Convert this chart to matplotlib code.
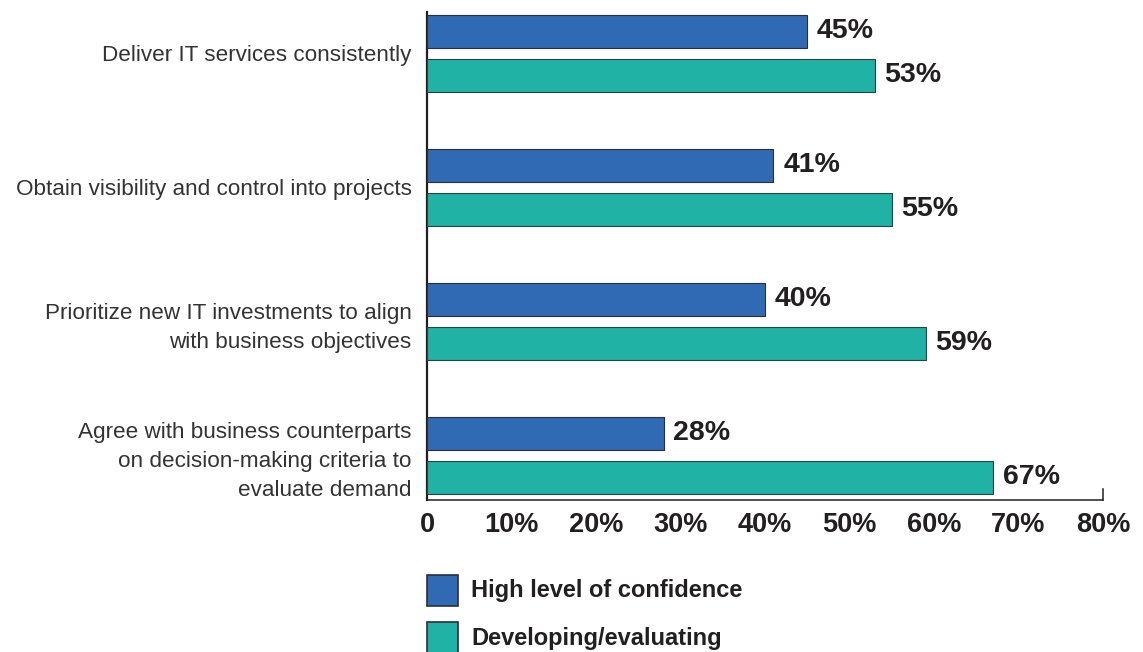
import matplotlib
matplotlib.use('Agg')
import matplotlib.pyplot as plt
from matplotlib.patches import Rectangle
import numpy as np

plt.rcParams['font.family'] = ['Liberation Sans', 'DejaVu Sans']

categories = [
    "Deliver IT services consistently",
    "Obtain visibility and control into projects",
    "Prioritize new IT investments to align\nwith business objectives",
    "Agree with business counterparts\non decision-making criteria to\nevaluate demand",
]
high_confidence = [45, 41, 40, 28]
developing = [53, 55, 59, 67]
series_names = ["High level of confidence", "Developing/evaluating"]
x_ticks = [0, 10, 20, 30, 40, 50, 60, 70, 80]
x_tick_labels = ["0", "10%", "20%", "30%", "40%", "50%", "60%", "70%", "80%"]

BLUE = '#306AB4'
TEAL = '#20B2A5'
INK = '#231f20'

W, H = 1143, 652
fig = plt.figure(figsize=(W / 100, H / 100), dpi=100)
ax = fig.add_axes([427 / W, 1 - 500 / H, 676 / W, 488 / H])

y = np.arange(len(categories))
off = 22 / 134
bar_h = 33 / 134

ax.barh(y - off, high_confidence, height=bar_h, color=BLUE,
        edgecolor='#2a2f3a', linewidth=0.8, zorder=3)
ax.barh(y + off, developing, height=bar_h, color=TEAL,
        edgecolor='#2f3f40', linewidth=0.8, zorder=3)

# value labels just past the bar ends
for yy, v in zip(y - off, high_confidence):
    ax.annotate(f"{v}%", (v, yy), xytext=(7, 0), textcoords='offset points',
                va='center', ha='left', fontsize=20.5, fontweight='bold', color=INK)
for yy, v in zip(y + off, developing):
    ax.annotate(f"{v}%", (v, yy), xytext=(7, 0), textcoords='offset points',
                va='center', ha='left', fontsize=20.5, fontweight='bold', color=INK)

ax.set_xlim(0, 80)
ax.set_ylim(3 + 44.5 / 134, -41 / 134)

ax.set_yticks(y)
ax.set_yticklabels(categories, fontsize=16.2, color='#333333', linespacing=1.5)
ax.tick_params(axis='y', length=0, pad=11)

ax.set_xticks(x_ticks)
ax.set_xticklabels(x_tick_labels, fontsize=19.5, fontweight='bold', color=INK)
ax.tick_params(axis='x', which='major', length=0, pad=9)
ax.set_xticks([10, 20, 30, 40, 50, 60], minor=True)
ax.tick_params(axis='x', which='minor', direction='in', length=4.5,
               width=1, color=INK)

for side in ['top', 'right']:
    ax.spines[side].set_visible(False)
ax.spines['left'].set_linewidth(1.6)
ax.spines['left'].set_color(INK)
ax.spines['bottom'].set_linewidth(1.1)
ax.spines['bottom'].set_color(INK)

# closing tick at the right end of the axis
ax.plot([1, 1], [0, 11 / 488], transform=ax.transAxes, color=INK,
        lw=1.1, clip_on=False, zorder=5)

# legend drawn as swatches under the axis
for i, (name, col) in enumerate(zip(series_names, [BLUE, TEAL])):
    top = 575 + 47 * i
    fig.patches.append(Rectangle((427 / W, 1 - (top + 31) / H), 31 / W, 31 / H,
                                 transform=fig.transFigure, facecolor=col,
                                 edgecolor='#2a2f3a', linewidth=1.2))
    fig.text(471 / W, 1 - (top + 16) / H, name, fontsize=17,
             fontweight='bold', color=INK, va='center', ha='left')

fig.savefig('out.png', dpi=100)
